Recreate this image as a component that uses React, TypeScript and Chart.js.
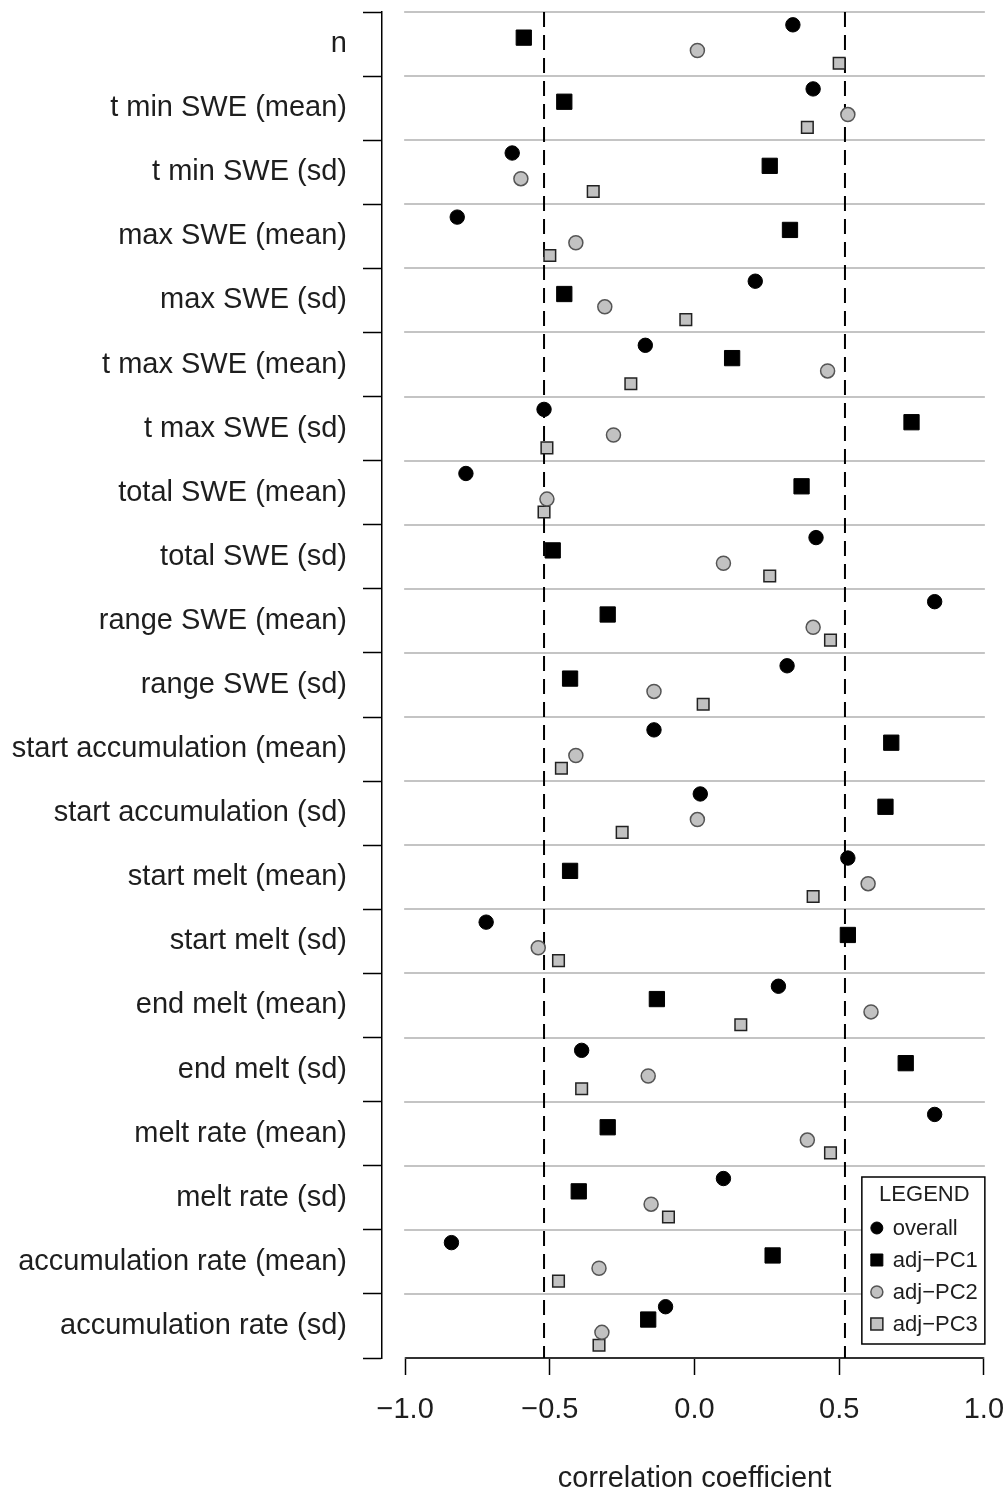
import React, { useEffect, useRef } from 'react';
import { Chart, registerables } from 'chart.js';

Chart.register(...registerables);

const categories = [
  'n',
  't min SWE (mean)',
  't min SWE (sd)',
  'max SWE (mean)',
  'max SWE (sd)',
  't max SWE (mean)',
  't max SWE (sd)',
  'total SWE (mean)',
  'total SWE (sd)',
  'range SWE (mean)',
  'range SWE (sd)',
  'start accumulation (mean)',
  'start accumulation (sd)',
  'start melt (mean)',
  'start melt (sd)',
  'end melt (mean)',
  'end melt (sd)',
  'melt rate (mean)',
  'melt rate (sd)',
  'accumulation rate (mean)',
  'accumulation rate (sd)',
];

const overall = [0.34, 0.41, -0.63, -0.82, 0.21, -0.17, -0.52, -0.79, 0.42, 0.83, 0.32, -0.14, 0.02, 0.53, -0.72, 0.29, -0.39, 0.83, 0.10, -0.84, -0.10];
const adjPC1 = [-0.59, -0.45, 0.26, 0.33, -0.45, 0.13, 0.75, 0.37, -0.49, -0.30, -0.43, 0.68, 0.66, -0.43, 0.53, -0.13, 0.73, -0.30, -0.40, 0.27, -0.16];
const adjPC2 = [0.01, 0.53, -0.60, -0.41, -0.31, 0.46, -0.28, -0.51, 0.10, 0.41, -0.14, -0.41, 0.01, 0.60, -0.54, 0.61, -0.16, 0.39, -0.15, -0.33, -0.32];
const adjPC3 = [0.50, 0.39, -0.35, -0.50, -0.03, -0.22, -0.51, -0.52, 0.26, 0.47, 0.03, -0.46, -0.25, 0.41, -0.47, 0.16, -0.39, 0.47, -0.09, -0.47, -0.33];

const seriesNames = ['overall', 'adj\u2212PC1', 'adj\u2212PC2', 'adj\u2212PC3'];
const xTicks = [-1, -0.5, 0, 0.5, 1];
const refLines = [-0.52, 0.52];
const legendTitle = 'LEGEND';
const axisTitle = 'correlation coefficient';

const FONT = '"Liberation Sans", Arial, Helvetica, sans-serif';
const TEXT = '#1e1e1e';
const rowOffsets = [-0.3, -0.1, 0.1, 0.3];

const fmt = (v: number) => (v < 0 ? '\u2212' : '') + Math.abs(v).toFixed(1);

const rPlot = {
  id: 'rPlot',
  beforeDatasetsDraw(chart: any) {
    const { ctx, scales } = chart;
    const x = scales.x;
    const y = scales.y;
    const x0 = x.getPixelForValue(xTicks[0]);
    const x1 = x.getPixelForValue(xTicks[xTicks.length - 1]);
    ctx.save();
    ctx.strokeStyle = '#c4c4c4';
    ctx.lineWidth = 2;
    y.ticks.forEach((t: any) => {
      if (!Number.isInteger(t.value)) {
        const py = Math.round(y.getPixelForValue(t.value));
        ctx.beginPath();
        ctx.moveTo(x0 - 1, py);
        ctx.lineTo(x1 + 1, py);
        ctx.stroke();
      }
    });
    ctx.restore();
  },
  afterDatasetsDraw(chart: any) {
    const { ctx, scales, chartArea } = chart;
    const x = scales.x;
    const x0 = x.getPixelForValue(xTicks[0]);
    const x1 = x.getPixelForValue(xTicks[xTicks.length - 1]);
    ctx.save();
    // x axis line (R style, spanning first to last tick)
    ctx.strokeStyle = '#000';
    ctx.lineWidth = 1.5;
    ctx.beginPath();
    ctx.moveTo(x0, chartArea.bottom);
    ctx.lineTo(x1, chartArea.bottom);
    ctx.stroke();

    // legend box
    const w = 123;
    const h = 167;
    const right = x1 + 1;
    const bottom = chartArea.bottom - 14;
    const left = right - w;
    const top = bottom - h;
    ctx.fillStyle = '#fff';
    ctx.fillRect(left, top, w, h);
    ctx.strokeStyle = '#000';
    ctx.lineWidth = 1.5;
    ctx.strokeRect(left, top, w, h);
    ctx.fillStyle = TEXT;
    ctx.font = `22px ${FONT}`;
    ctx.textAlign = 'center';
    ctx.textBaseline = 'middle';
    ctx.fillText(legendTitle, left + w / 2 + 1, top + 18);
    ctx.textAlign = 'left';
    chart.data.datasets.forEach((ds: any, k: number) => {
      if (k >= seriesNames.length) return;
      const cy = top + 51 + k * 32;
      const cx = left + 15;
      ctx.fillStyle = ds.backgroundColor;
      ctx.strokeStyle = ds.borderColor;
      ctx.lineWidth = ds.borderWidth;
      ctx.beginPath();
      if (ds.pointStyle === 'circle') {
        ctx.arc(cx, cy, 6, 0, Math.PI * 2);
      } else {
        ctx.rect(cx - 6, cy - 6, 12, 12);
      }
      ctx.fill();
      ctx.stroke();
      ctx.fillStyle = TEXT;
      ctx.fillText(ds.label, left + 31, cy + 1);
    });
    ctx.restore();
  },
};

const toPoints = (vals: number[], k: number) => vals.map((v, i) => ({ x: v, y: i + rowOffsets[k] }));

export default function App() {
  const ref = useRef<HTMLCanvasElement | null>(null);
  useEffect(() => {
    document.body.style.margin = '0';
    const canvas = ref.current;
    if (!canvas) return;
    const datasets: any[] = [
      { label: seriesNames[0], data: toPoints(overall, 0), pointStyle: 'circle', pointRadius: 7.2, backgroundColor: '#000', borderColor: '#000', borderWidth: 1 },
      { label: seriesNames[1], data: toPoints(adjPC1, 1), pointStyle: 'rect', pointRadius: 10.8, backgroundColor: '#000', borderColor: '#000', borderWidth: 1 },
      { label: seriesNames[2], data: toPoints(adjPC2, 2), pointStyle: 'circle', pointRadius: 7, backgroundColor: '#c2c2c2', borderColor: '#555', borderWidth: 1.5 },
      { label: seriesNames[3], data: toPoints(adjPC3, 3), pointStyle: 'rect', pointRadius: 8.2, backgroundColor: '#c2c2c2', borderColor: '#222', borderWidth: 1.5 },
    ];
    refLines.forEach((v) => {
      datasets.push({
        label: 'ref',
        data: [{ x: v, y: -0.5 }, { x: v, y: categories.length - 0.5 }],
        showLine: true,
        borderColor: '#000',
        borderWidth: 2,
        borderDash: [15, 8],
        pointRadius: 0,
        fill: false,
      });
    });
    const chart = new Chart(canvas, {
      type: 'scatter',
      data: { datasets },
      plugins: [rPlot],
      options: {
        responsive: false,
        animation: false,
        devicePixelRatio: 1,
        events: [],
        layout: { autoPadding: false, padding: { top: 12, left: 0, right: 0, bottom: 0 } },
        plugins: { legend: { display: false }, tooltip: { enabled: false } },
        scales: {
          x: {
            type: 'linear',
            position: 'bottom',
            min: -1.08,
            max: 1.08,
            afterBuildTicks: (s: any) => {
              s.ticks = xTicks.map((v) => ({ value: v }));
            },
            afterFit: (s: any) => {
              s.height = 136;
              s.paddingLeft = 0;
              s.paddingRight = 0;
            },
            grid: { drawOnChartArea: false, drawTicks: true, tickLength: 17, tickColor: '#000', tickWidth: 1.5 },
            border: { display: false },
            ticks: {
              autoSkip: false,
              maxRotation: 0,
              padding: 18,
              color: TEXT,
              font: { family: FONT, size: 29 },
              callback: (v: any) => fmt(Number(v)),
            },
            title: { display: true, text: axisTitle, color: TEXT, font: { family: FONT, size: 29 }, padding: { top: 0, bottom: -2 } },
          },
          y: {
            type: 'linear',
            min: -0.5,
            max: categories.length - 0.5,
            reverse: true,
            afterBuildTicks: (s: any) => {
              const t: any[] = [];
              for (let i = 0; i <= categories.length * 2; i++) t.push({ value: -0.5 + i * 0.5 });
              s.ticks = t;
            },
            afterFit: (s: any) => {
              s.width = 382;
              s.paddingTop = 0;
              s.paddingBottom = 0;
            },
            grid: {
              drawOnChartArea: false,
              drawTicks: true,
              tickLength: 19,
              tickWidth: 1.5,
              tickColor: (c: any) => (c.tick && Number.isInteger(c.tick.value) ? 'rgba(0,0,0,0)' : '#000'),
            },
            border: { display: true, color: '#000', width: 1.5 },
            ticks: {
              autoSkip: false,
              padding: 16,
              color: TEXT,
              font: { family: FONT, size: 29 },
              callback: (v: any) => (Number.isInteger(Number(v)) ? categories[Number(v)] : ''),
            },
          },
        },
      } as any,
    });
    return () => chart.destroy();
  }, []);
  return <canvas ref={ref} width={1007} height={1494} style={{ display: 'block' }} />;
}
